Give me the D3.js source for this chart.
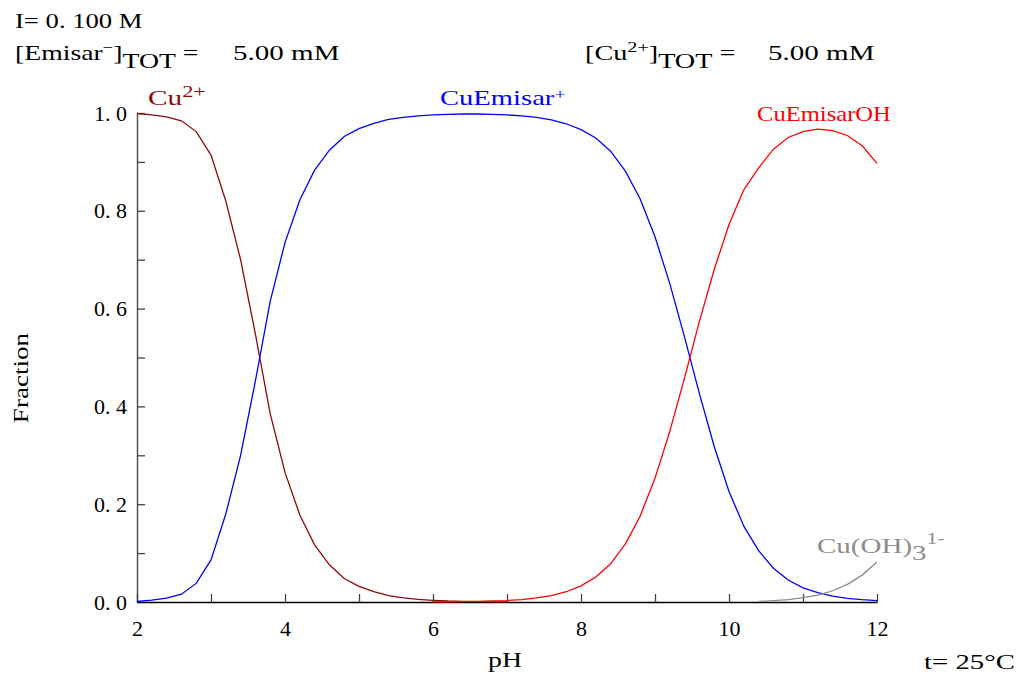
<!DOCTYPE html>
<html>
<head>
<meta charset="utf-8">
<script src="https://cdn.jsdelivr.net/npm/d3@7"></script>
<style>
  body { margin: 0; background: #fff; }
  svg { display: block; font-family: "Liberation Serif", "DejaVu Serif", serif; }
</style>
</head>
<body>
<svg id="chart" width="1019" height="675"></svg>
<script>
// pH grid (step 0.2)
const pH = [2.0, 2.2, 2.4, 2.6, 2.8, 3.0, 3.2, 3.4, 3.6, 3.8,
            4.0, 4.2, 4.4, 4.6, 4.8, 5.0, 5.2, 5.4, 5.6, 5.8,
            6.0, 6.2, 6.4, 6.6, 6.8, 7.0, 7.2, 7.4, 7.6, 7.8,
            8.0, 8.2, 8.4, 8.6, 8.8, 9.0, 9.2, 9.4, 9.6, 9.8,
            10.0, 10.2, 10.4, 10.6, 10.8, 11.0, 11.2, 11.4, 11.6, 11.8, 12.0];

// Cu2+ (ends near 7)
const cuFree = [0.999, 0.996, 0.992, 0.984, 0.962, 0.914, 0.820, 0.700, 0.548, 0.385,
                0.265, 0.178, 0.117, 0.076, 0.048, 0.032, 0.021, 0.013, 0.0085, 0.0055,
                0.0035, 0.002, 0.0012, 0.0006, 0.0003, 0.0001, null, null, null, null,
                null, null, null, null, null, null, null, null, null, null,
                null, null, null, null, null, null, null, null, null, null, null];

// CuEmisar+
const cuL = [0.001, 0.004, 0.008, 0.016, 0.038, 0.086, 0.180, 0.300, 0.452, 0.615,
             0.735, 0.822, 0.883, 0.924, 0.952, 0.968, 0.979, 0.987, 0.991, 0.994,
             0.996, 0.997, 0.998, 0.998, 0.997, 0.996, 0.994, 0.991, 0.986, 0.978,
             0.966, 0.949, 0.922, 0.881, 0.824, 0.747, 0.651, 0.541, 0.426, 0.318,
             0.226, 0.155, 0.105, 0.069, 0.045, 0.029, 0.019, 0.012, 0.0074, 0.0047, 0.003];

// CuEmisarOH (starts near 6)
const cuLOH = [null, null, null, null, null, null, null, null, null, null,
               null, null, null, null, null, null, null, null, null, null,
               0.0003, 0.0005, 0.0008, 0.0013, 0.002, 0.003, 0.005, 0.0085, 0.013, 0.021,
               0.033, 0.051, 0.078, 0.119, 0.176, 0.253, 0.349, 0.459, 0.574, 0.680,
               0.772, 0.843, 0.888, 0.926, 0.950, 0.962, 0.967, 0.964, 0.954, 0.933, 0.897];

// Cu(OH)3 1- (only visible above pH 10)
const cuOH3 = [null, null, null, null, null, null, null, null, null, null,
               null, null, null, null, null, null, null, null, null, null,
               null, null, null, null, null, null, null, null, null, null,
               null, null, null, null, null, null, null, null, null, null,
               null, null, 0.001, 0.003, 0.005, 0.009, 0.014, 0.023, 0.036, 0.055, 0.082];

const xTicks = [2, 3, 4, 5, 6, 7, 8, 9, 10, 11, 12];
const yTicks = [0, 0.1, 0.2, 0.3, 0.4, 0.5, 0.6, 0.7, 0.8, 0.9, 1.0];

const series = [
  { name: "cu", values: cuFree, color: "#8b0a0a" },
  { name: "cuL", values: cuL, color: "#0000ff" },
  { name: "cuLOH", values: cuLOH, color: "#ff0000" },
  { name: "cuOH3", values: cuOH3, color: "#8c8c8c" }
];

const svg = d3.select("#chart");
const x = d3.scaleLinear().domain([2, 12]).range([137, 877]);
const y = d3.scaleLinear().domain([0, 1]).range([602, 113]);
const fs = 21;

// y axis
const yAxis = svg.append("g")
  .attr("transform", "translate(" + x(2) + ",0)")
  .call(d3.axisLeft(y).tickValues(yTicks).tickSize(-8).tickSizeOuter(0).tickPadding(10)
    .tickFormat(d => {
      const k = Math.round(d * 10);
      return k % 2 === 0 ? d.toFixed(1).replace(".", ". ") : "";
    }));
yAxis.select(".domain").attr("stroke", "#555").attr("stroke-width", 1.5);
yAxis.selectAll(".tick line").attr("stroke", "#444").attr("stroke-width", 1.3);
yAxis.selectAll("text").attr("font-size", 22).attr("font-family", "Liberation Serif").attr("fill", "#000");

// x axis
const xAxis = svg.append("g")
  .attr("transform", "translate(0," + y(0) + ")")
  .call(d3.axisBottom(x).tickValues(xTicks).tickSize(-8).tickSizeOuter(0).tickPadding(18)
    .tickFormat(d => d % 2 === 0 ? d : ""));
xAxis.select(".domain").attr("stroke", "#000").attr("stroke-width", 1.5);
xAxis.selectAll(".tick line").attr("stroke", "#444").attr("stroke-width", 1.3);
xAxis.selectAll("text").attr("font-size", 22).attr("font-family", "Liberation Serif").attr("fill", "#000");

// curves
const line = d3.line()
  .defined(d => d[1] != null)
  .x(d => x(d[0]))
  .y(d => y(d[1]));

series.forEach(s => {
  svg.append("path")
    .datum(pH.map((p, i) => [p, s.values[i]]))
    .attr("fill", "none")
    .attr("stroke", s.color)
    .attr("stroke-width", 1.3)
    .attr("d", line);
});

// text is drawn stretched sideways in the original, so stretch to a target width
function fit(t, x0, y0, w, extra) {
  const bw = t.node().getBBox().width;
  t.attr("transform", "translate(" + x0 + "," + y0 + ")" + (extra || "") + " scale(" + (w / bw) + ",1)");
  return t;
}
function label(color) {
  return svg.append("text").attr("x", 0).attr("y", 0).attr("font-size", fs).attr("fill", color || "#000");
}

// axis titles
fit(label().text("pH"), 488, 667, 34);
fit(label().attr("text-anchor", "middle").text("Fraction"), 28, 378, 91, " rotate(-90)");

// header texts
fit(label().text("I= 0. 100 M"), 15, 28, 128);

const t1 = label();
t1.append("tspan").text("[Emisar");
t1.append("tspan").attr("font-size", 14).attr("dy", -8).text("\u2212");
t1.append("tspan").attr("dy", 8).text("]");
t1.append("tspan").attr("dy", 8).text("TOT");
t1.append("tspan").attr("dy", -8).text(" =");
fit(t1, 15, 60, 183);
fit(label().text("5.00 mM"), 233, 60, 107);

const t2 = label();
t2.append("tspan").text("[Cu");
t2.append("tspan").attr("font-size", 15).attr("dy", -8).text("2+");
t2.append("tspan").attr("dy", 8).text("]");
t2.append("tspan").attr("dy", 8).text("TOT");
t2.append("tspan").attr("dy", -8).text(" =");
fit(t2, 585, 60, 150);
fit(label().text("5.00 mM"), 768, 60, 107);

fit(label().text("t= 25°C"), 924, 669, 91);

// species labels
const l1 = label("#8b0a0a");
l1.append("tspan").text("Cu");
l1.append("tspan").attr("font-size", 16).attr("dy", -8).text("2+");
fit(l1, 148, 105, 58);

const l2 = label("#0000ff");
l2.append("tspan").text("CuEmisar");
l2.append("tspan").attr("font-size", 15).attr("dy", -6).text("+");
fit(l2, 440, 105, 126);

fit(label("#ff0000").text("CuEmisarOH"), 757, 121, 134);

const l4 = label("#8c8c8c");
l4.append("tspan").text("Cu(OH)");
l4.append("tspan").attr("dy", 7).text("3");
l4.append("tspan").attr("font-size", 16).attr("dy", -16).text("1-");
fit(l4, 817, 553, 128);
</script>
</body>
</html>
